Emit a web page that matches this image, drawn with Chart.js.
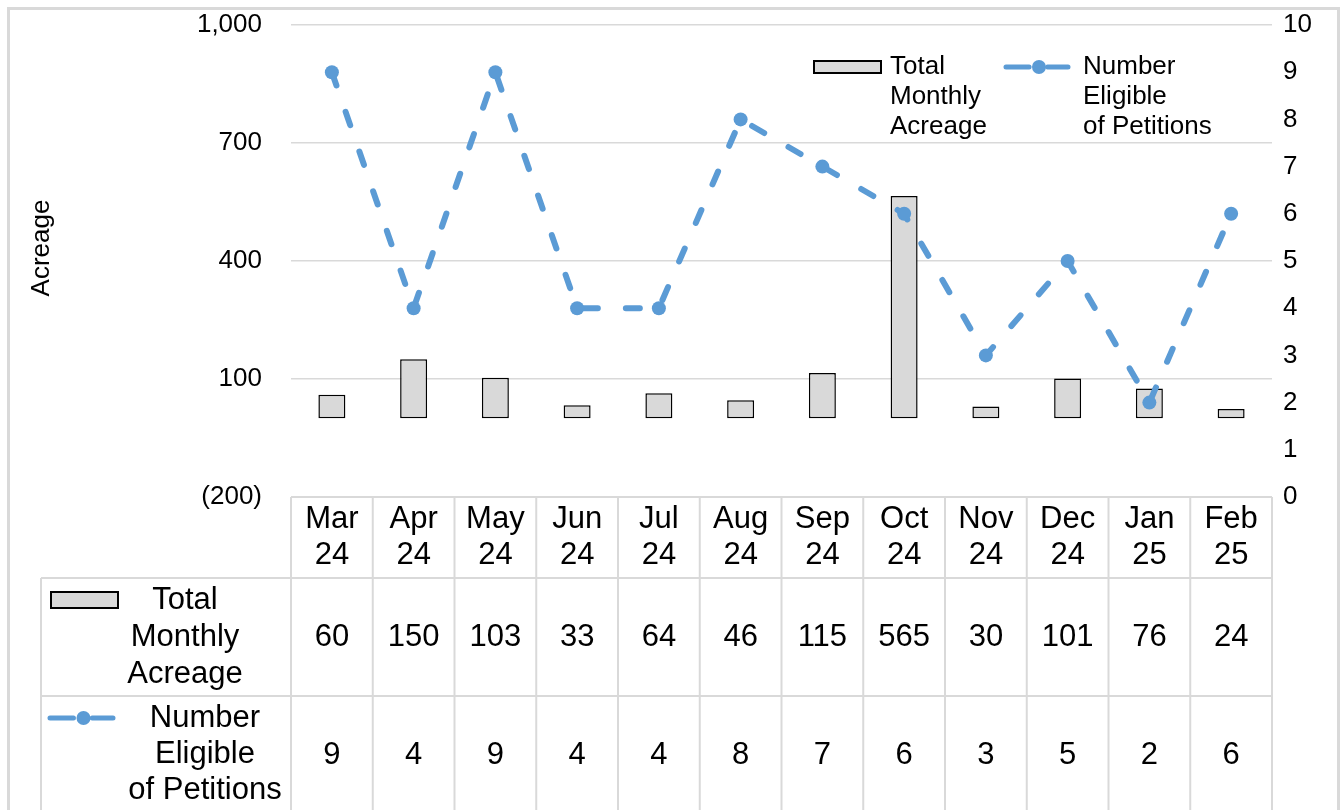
<!DOCTYPE html>
<html lang="en">
<head>
  <meta charset="UTF-8">
  <title>Monthly Acreage and Eligible Petitions</title>
  <script src="https://cdn.jsdelivr.net/npm/chart.js"></script>
  <style>
    body { margin: 0; background: #fff; }
    .chart-container { width: 1343px; height: 810px; position: relative; }
  </style>
</head>
<body>
  <div class="chart-container"><canvas id="comboChart"></canvas></div>
  <script>
    // Data
    const months = ['Mar 24', 'Apr 24', 'May 24', 'Jun 24', 'Jul 24', 'Aug 24',
                    'Sep 24', 'Oct 24', 'Nov 24', 'Dec 24', 'Jan 25', 'Feb 25'];
    const acreage = [60, 150, 103, 33, 64, 46, 115, 565, 30, 101, 76, 24];
    const petitions = [9, 4, 9, 4, 4, 8, 7, 6, 3, 5, 2, 6];
    const acreageName = ['Total', 'Monthly', 'Acreage'];
    const petitionsName = ['Number', 'Eligible', 'of Petitions'];
    const acreageTicks = [-200, 100, 400, 700, 1000];
    const petitionTicks = [0, 1, 2, 3, 4, 5, 6, 7, 8, 9, 10];

    const FONT = "'Liberation Sans', Arial, sans-serif";
    const GRID = '#D9D9D9';
    const BLUE = '#5B9BD5';
    const BAR_FILL = '#D9D9D9';

    function fmtAcre(v) {
      return v < 0 ? '(' + Math.abs(v) + ')' : v.toLocaleString('en-US');
    }

    // draws the little series keys (box / dashed line with dot)
    function drawKey(ctx, ds, x, y, w, h) {
      if (ds.type === 'bar') {
        ctx.fillStyle = ds.backgroundColor;
        ctx.strokeStyle = ds.borderColor;
        ctx.lineWidth = 2;
        ctx.fillRect(x, y - h / 2, w, h);
        ctx.strokeRect(x, y - h / 2, w, h);
      } else {
        ctx.strokeStyle = ds.borderColor;
        ctx.lineWidth = 5;
        ctx.lineCap = 'round';
        ctx.beginPath();
        ctx.moveTo(x + 2, y); ctx.lineTo(x + w * 0.38, y);
        ctx.moveTo(x + w * 0.66, y); ctx.lineTo(x + w - 2, y);
        ctx.stroke();
        ctx.fillStyle = ds.borderColor;
        ctx.beginPath();
        ctx.arc(x + w * 0.53, y, 7, 0, Math.PI * 2);
        ctx.fill();
      }
    }

    const framePlugin = {
      id: 'frame',
      beforeDraw(chart) {
        const ctx = chart.ctx;
        ctx.save();
        ctx.fillStyle = '#fff';
        ctx.fillRect(0, 0, chart.width, chart.height);
        ctx.strokeStyle = GRID;
        ctx.lineWidth = 3;
        ctx.strokeRect(8.5, 8.5, 1330, 900);
        ctx.restore();
      },
      afterDraw(chart) {
        const ctx = chart.ctx;
        const area = chart.chartArea;
        const xs = chart.scales.x;
        const colW = (area.right - area.left) / months.length;
        const top = area.bottom;
        const row1 = top + 81;
        const row2 = row1 + 118;
        const tableLeft = 41;
        const bottom = chart.height;
        ctx.save();

        // axis title
        ctx.fillStyle = '#000';
        ctx.font = '26px ' + FONT;
        ctx.textAlign = 'center';
        ctx.textBaseline = 'middle';
        ctx.save();
        ctx.translate(42, 248);
        ctx.rotate(-Math.PI / 2);
        ctx.fillText('Acreage', 0, 0);
        ctx.restore();

        // table grid
        ctx.strokeStyle = GRID;
        ctx.lineWidth = 2;
        ctx.beginPath();
        ctx.moveTo(area.left, top); ctx.lineTo(area.right, top);
        ctx.moveTo(tableLeft, row1); ctx.lineTo(area.right, row1);
        ctx.moveTo(tableLeft, row2); ctx.lineTo(area.right, row2);
        ctx.moveTo(tableLeft, row1); ctx.lineTo(tableLeft, bottom);
        for (let i = 0; i <= months.length; i++) {
          const x = area.left + i * colW;
          ctx.moveTo(x, top); ctx.lineTo(x, bottom);
        }
        ctx.stroke();

        // table text
        ctx.fillStyle = '#000';
        ctx.font = '31px ' + FONT;
        ctx.textAlign = 'center';
        ctx.textBaseline = 'middle';
        months.forEach((m, i) => {
          const cx = xs.getPixelForValue(i);
          const parts = m.split(' ');
          ctx.fillText(parts[0], cx, top + 22);
          ctx.fillText(parts[1], cx, top + 58);
          ctx.fillText(String(acreage[i]), cx, row1 + 59);
          ctx.fillText(String(petitions[i]), cx, row2 + 59);
        });

        const barDs = chart.data.datasets[1];
        const lineDs = chart.data.datasets[0];
        acreageName.forEach((t, k) => ctx.fillText(t, 185, row1 + 22 + k * 37));
        petitionsName.forEach((t, k) => ctx.fillText(t, 205, row2 + 22 + k * 36));
        drawKey(ctx, barDs, 51, row1 + 22, 67, 16);
        drawKey(ctx, lineDs, 48, row2 + 22, 67, 0);

        // legend at top
        ctx.fillStyle = '#000';
        ctx.font = '26px ' + FONT;
        ctx.textAlign = 'left';
        drawKey(ctx, barDs, 814, 67, 67, 12);
        ctx.fillStyle = '#000';
        acreageName.forEach((t, k) => ctx.fillText(t, 890, 67 + k * 30));
        drawKey(ctx, lineDs, 1004, 67, 66, 0);
        ctx.fillStyle = '#000';
        petitionsName.forEach((t, k) => ctx.fillText(t, 1083, 67 + k * 30));

        ctx.restore();
      }
    };

    new Chart(document.getElementById('comboChart'), {
      data: {
        labels: months,
        datasets: [
          {
            type: 'line',
            label: petitionsName.join(' '),
            data: petitions,
            yAxisID: 'y1',
            order: 1,
            borderColor: BLUE,
            backgroundColor: BLUE,
            borderWidth: 6,
            borderDash: [14, 28],
            borderCapStyle: 'round',
            pointRadius: 7,
            pointBackgroundColor: BLUE,
            pointBorderWidth: 0,
            tension: 0
          },
          {
            type: 'bar',
            label: acreageName.join(' '),
            data: acreage,
            yAxisID: 'y',
            order: 2,
            backgroundColor: BAR_FILL,
            borderColor: '#000',
            borderWidth: 1.5,
            borderSkipped: false,
            barPercentage: 0.33,
            categoryPercentage: 1
          }
        ]
      },
      options: {
        responsive: true,
        maintainAspectRatio: false,
        animation: false,
        layout: { padding: { top: 25, bottom: 313, left: 0, right: 0 } },
        plugins: { legend: { display: false }, tooltip: { enabled: false } },
        scales: {
          x: { display: false, offset: true },
          y: {
            position: 'left',
            min: acreageTicks[0],
            max: acreageTicks[acreageTicks.length - 1],
            afterBuildTicks: s => { s.ticks = acreageTicks.map(v => ({ value: v })); },
            afterFit: s => { s.width = 291; s.paddingTop = 0; s.paddingBottom = 0; },
            border: { display: false },
            grid: { color: GRID, lineWidth: 1.5, drawTicks: false },
            ticks: {
              padding: 29,
              color: '#000',
              font: { family: FONT, size: 26 },
              callback: v => fmtAcre(v)
            }
          },
          y1: {
            position: 'right',
            min: petitionTicks[0],
            max: petitionTicks[petitionTicks.length - 1],
            afterBuildTicks: s => { s.ticks = petitionTicks.map(v => ({ value: v })); },
            afterFit: s => { s.width = 71; s.paddingTop = 0; s.paddingBottom = 0; },
            border: { display: false },
            grid: { display: false, drawTicks: false },
            ticks: {
              padding: 11,
              color: '#000',
              font: { family: FONT, size: 26 }
            }
          }
        }
      },
      plugins: [framePlugin]
    });
  </script>
</body>
</html>
